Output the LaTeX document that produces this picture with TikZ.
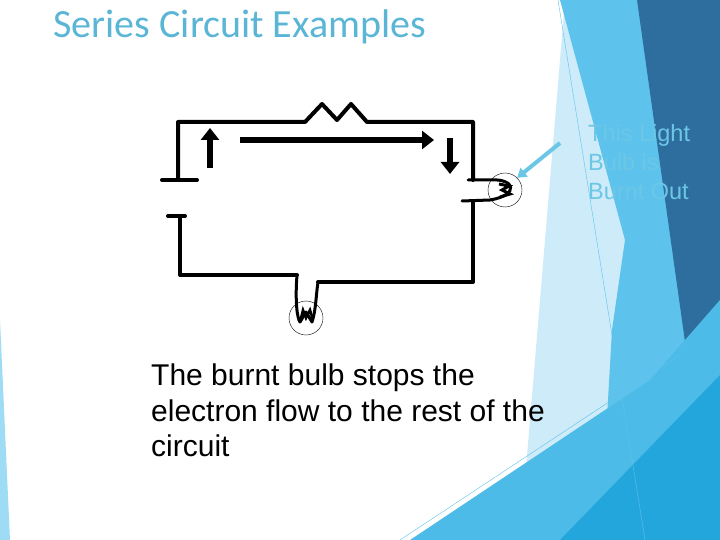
\documentclass[tikz,border=0pt]{standalone}
\usepackage{fontspec}
\setmainfont{Liberation Sans}
\newfontfamily\titlefont{Carlito}
\usetikzlibrary{arrows.meta}
\definecolor{titleblue}{HTML}{5BB6D6}
\definecolor{pale}{HTML}{CDEBF8}
\definecolor{lightb}{HTML}{5EC3EC}
\definecolor{darkb}{HTML}{2E6E9E}
\definecolor{brightb}{HTML}{23A6DB}
\definecolor{midb}{HTML}{4DBBE7}
\definecolor{txtblue}{HTML}{6CC6E6}
\tikzset{wire/.style={line width=4pt,line cap=round,line join=round},
 bulb/.style={draw,thin,circle,minimum size=34pt,inner sep=0pt},
 flow/.style={line width=6pt,-{Triangle[length=12pt,width=18pt]}}}
\begin{document}
\begin{tikzpicture}[x=1pt,y=-1pt]
\useasboundingbox (0,0) rectangle (720,540);
% background shapes
\fill[pale] (565,0) -- (640,0) -- (655,540) -- (520,540) -- cycle;
\fill[lightb] (560,0) -- (640,0) -- (700,415) -- (650,540) -- (600,540) -- (612,330) -- (625,240) -- cycle;
\fill[darkb] (637,0) -- (720,0) -- (720,375) -- (695,413) -- cycle;
\fill[midb] (410,540) -- (650,380) -- (720,300) -- (720,540) -- cycle;
\fill[brightb] (560,540) -- (720,375) -- (720,540) -- cycle;
\fill[lightb!60] (0,320) -- (10,540) -- (0,540) -- cycle;
\draw[lightb,thin] (558,0) -- (645,540);
\draw[lightb,thin] (400,540) -- (680,355);
% title
\node[anchor=west,text=titleblue,font=\titlefont\fontsize{40}{44}\selectfont] (title) at (50,27) {Series Circuit Examples};
% circuit
\coordinate (tl) at (178,122); \coordinate (tr) at (473,122);
\draw[wire] (178,180) -- (tl) -- (305,122) -- (322,104) -- (337,120) -- (351,104) -- (367,122) -- (tr) -- (473,180);
\draw[wire] (162,180) -- (197,180);
\draw[wire] (168,216) -- (185,216);
\draw[wire] (180,218) -- (180,275) -- (297,275);
\draw[wire] (473,202) -- (473,282) -- (318,282);
% right bulb
\node[bulb] (b1) at (505,190) {};
\draw[wire,line width=3pt] (468,180) -- (490,180) .. controls (515,178) and (520,195) .. (490,200) -- (462,201);
\draw[line width=3pt] (499,184) -- (509,186) -- (502,190) -- (510,194) -- (500,197);
% bottom bulb
\node[bulb] (b2) at (306,318) {};
\draw[wire,line width=3pt] (297,275) .. controls (295,300) and (297,318) .. (300,322) -- (306,312) -- (312,322) .. controls (316,310) and (316,295) .. (318,282);
\draw[line width=2.5pt] (300,322) -- (303,310) -- (306,318) -- (310,310) -- (313,320);
% flow arrows
\draw[flow] (210,168) -- (210,128);
\draw[flow] (240,140) -- (434,140);
\draw[flow] (450,138) -- (450,174);
% pointer
\coordinate (ps) at (560,143);
\draw[txtblue,line width=4pt,-{Triangle[length=9pt,width=11pt]}] (ps) -- (b1.north east);
\node[anchor=north west,align=left,text=txtblue,font=\fontsize{23.5}{29}\selectfont,inner sep=0pt] (lbl) at (588,124) {This Light\\Bulb is\\Burnt Out};
% caption
\node[anchor=north west,align=left,font=\fontsize{30}{35.5}\selectfont,inner sep=0pt] (cap) at (151,364) {The burnt bulb stops the\\electron flow to the rest of the\\circuit};
\end{tikzpicture}
\end{document}
